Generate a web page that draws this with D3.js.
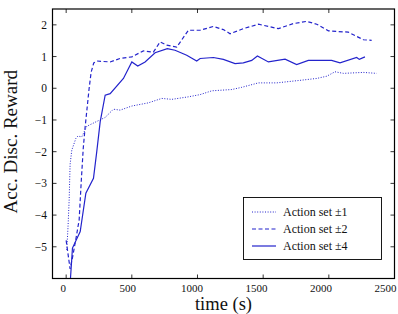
<!DOCTYPE html>
<html>
<head>
<meta charset="utf-8">
<script src="https://cdn.jsdelivr.net/npm/d3@7"></script>
<style>
  body { margin: 0; background: #fff; }
  text { font-family: "Liberation Serif", "Times New Roman", serif; fill: #111; }
</style>
</head>
<body>
<svg width="398" height="314"></svg>
<script>
// Data
var t1 = [5, 15, 23, 30, 43, 74, 89, 119, 157, 246, 297, 360, 411, 500, 626, 728, 804, 931, 1020, 1109, 1261, 1337, 1464, 1603, 1781, 1908, 1984, 2047, 2110, 2263, 2364];
var r1 = [-5.1, -4.3, -3.5, -2.4, -1.95, -1.58, -1.51, -1.53, -1.2, -1.02, -0.92, -0.66, -0.69, -0.56, -0.46, -0.32, -0.35, -0.27, -0.2, -0.08, -0.04, 0.03, 0.17, 0.17, 0.25, 0.31, 0.38, 0.52, 0.47, 0.50, 0.47];

var t2 = [0, 30, 50, 73, 99, 114, 130, 145, 160, 175, 190, 210, 233, 335, 411, 500, 588, 664, 715, 766, 842, 931, 1020, 1121, 1197, 1248, 1349, 1464, 1616, 1730, 1832, 1908, 1997, 2148, 2263, 2326];
var r2 = [-4.8, -5.7, -5.3, -4.78, -4.15, -3.0, -1.9, -1.2, -0.6, 0.0, 0.5, 0.8, 0.86, 0.83, 0.94, 0.99, 1.18, 1.14, 1.46, 1.36, 1.30, 1.83, 1.83, 1.95, 1.85, 1.72, 1.88, 2.02, 1.88, 2.04, 2.11, 2.02, 1.81, 1.77, 1.53, 1.51];

var t4 = [28, 48, 75, 107, 150, 208, 233, 259, 297, 335, 436, 500, 545, 601, 677, 770, 829, 918, 994, 1020, 1121, 1197, 1286, 1349, 1413, 1456, 1540, 1667, 1755, 1844, 2021, 2085, 2212, 2232, 2275];
var r4 = [-6.3, -5.04, -4.8, -4.52, -3.31, -2.84, -2.0, -1.06, -0.22, -0.17, 0.31, 0.83, 0.70, 0.83, 1.12, 1.25, 1.20, 1.04, 0.86, 0.94, 0.97, 0.91, 0.78, 0.80, 0.88, 1.02, 0.83, 0.92, 0.75, 0.88, 0.88, 0.80, 0.97, 0.91, 0.99];

var xTicks = [0, 500, 1000, 1500, 2000, 2500];
var yTicks = [-5, -4, -3, -2, -1, 0, 1, 2];
var seriesNames = ["Action set \u00b11", "Action set \u00b12", "Action set \u00b14"];

var svg = d3.select("svg");
var pLeft = 52.5, pRight = 394.5, pTop = 9, pBottom = 278.5;
var blue = "#2323cc";

var x = d3.scaleLinear().domain([-104, 2500]).range([pLeft, pRight]);
var y = d3.scaleLinear().domain([-6, 2.5]).range([pBottom, pTop]);

svg.append("defs").append("clipPath").attr("id", "clip")
  .append("rect").attr("x", pLeft).attr("y", pTop)
  .attr("width", pRight - pLeft).attr("height", pBottom - pTop);

// ticks, inward on all four sides
var tk = svg.append("g").attr("stroke", "#000").attr("stroke-width", 0.8);
xTicks.forEach(function (v) {
  tk.append("line").attr("x1", x(v)).attr("x2", x(v)).attr("y1", pBottom).attr("y2", pBottom - 4);
  tk.append("line").attr("x1", x(v)).attr("x2", x(v)).attr("y1", pTop).attr("y2", pTop + 4);
});
yTicks.forEach(function (v) {
  tk.append("line").attr("x1", pLeft).attr("x2", pLeft + 4).attr("y1", y(v)).attr("y2", y(v));
  tk.append("line").attr("x1", pRight).attr("x2", pRight - 4).attr("y1", y(v)).attr("y2", y(v));
});

// the labels in the original sit a bit left of their ticks, more so to the right
svg.append("g").selectAll("text").data(xTicks).enter().append("text")
  .attr("x", function (d) { return x(d) - 3 - d / 500 * 1.2; })
  .attr("y", 291.5)
  .attr("text-anchor", "middle")
  .attr("font-size", 11)
  .text(function (d) { return d; });

svg.append("g").selectAll("text").data(yTicks).enter().append("text")
  .attr("x", 47)
  .attr("y", function (d) { return y(d) + 4; })
  .attr("text-anchor", "end")
  .attr("font-size", 11.5)
  .text(function (d) { return d < 0 ? "\u2212" + Math.abs(d) : d; });

// lines
var line = d3.line()
  .x(function (d) { return x(d[0]); })
  .y(function (d) { return y(d[1]); });

var series = [
  { pts: d3.zip(t1, r1), dash: "1,1.6", w: 1 },
  { pts: d3.zip(t2, r2), dash: "4,2.5", w: 1.2 },
  { pts: d3.zip(t4, r4), dash: null, w: 1.2 }
];

var lg = svg.append("g").attr("clip-path", "url(#clip)");
series.forEach(function (s) {
  lg.append("path")
    .attr("d", line(s.pts))
    .attr("fill", "none")
    .attr("stroke", blue)
    .attr("stroke-width", s.w)
    .attr("stroke-dasharray", s.dash);
});

// frame
svg.append("rect")
  .attr("x", pLeft).attr("y", pTop)
  .attr("width", pRight - pLeft).attr("height", pBottom - pTop)
  .attr("fill", "none").attr("stroke", "#000").attr("stroke-width", 1.2);

// axis titles
svg.append("text")
  .attr("x", (pLeft + pRight) / 2)
  .attr("y", 309.5)
  .attr("text-anchor", "middle")
  .attr("font-size", 18.5)
  .text("time (s)");

svg.append("text")
  .attr("transform", "translate(17," + ((pTop + pBottom) / 2 - 2) + ") rotate(-90)")
  .attr("text-anchor", "middle")
  .attr("font-size", 19)
  .text("Acc. Disc. Reward");

// legend
var leg = svg.append("g");
leg.append("rect")
  .attr("x", 243.5).attr("y", 197.5).attr("width", 138).attr("height", 62)
  .attr("fill", "#fff").attr("stroke", "#000").attr("stroke-width", 0.9);
series.forEach(function (s, i) {
  var yy = 212 + i * 17;
  leg.append("line")
    .attr("x1", 252).attr("x2", 276).attr("y1", yy).attr("y2", yy)
    .attr("stroke", blue).attr("stroke-width", s.w)
    .attr("stroke-dasharray", s.dash);
  leg.append("text")
    .attr("x", 283).attr("y", yy + 4)
    .attr("font-size", 12)
    .text(seriesNames[i]);
});
</script>
</body>
</html>
